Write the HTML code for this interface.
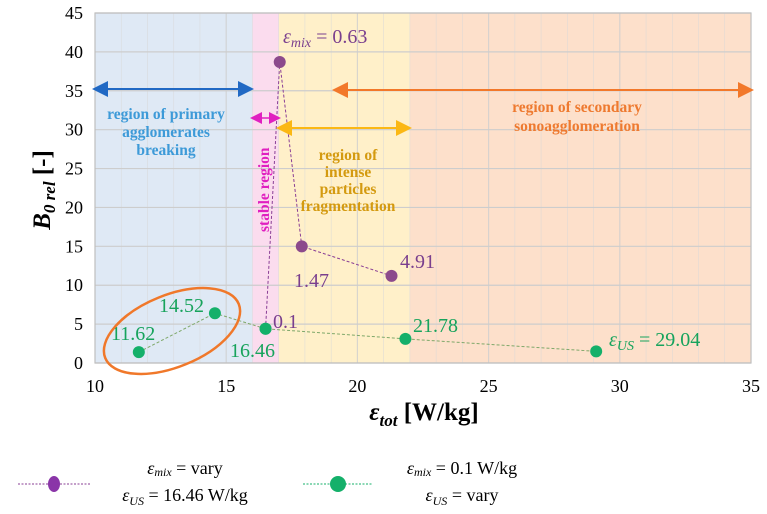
<!DOCTYPE html>
<html><head><meta charset="utf-8">
<style>
html,body{margin:0;padding:0;background:#fff;width:767px;height:514px;overflow:hidden}
svg{display:block;font-family:"Liberation Serif",serif}
</style></head>
<body>
<svg id="chart" width="767" height="514" viewBox="0 0 767 514" xmlns="http://www.w3.org/2000/svg">
<g id="regions"></g>
<g id="grid"></g>
<g id="ann"></g>
<g id="series"></g>
<g id="axes"></g>
</svg>
<script>
const xTicks = [10,15,20,25,30,35];
const yTicks = [0,5,10,15,20,25,30,35,40,45];
const regionBounds = [[10,16],[16,17],[17,22],[22,35]];
const regionNames = ['region-primary-breaking','region-stable','region-intense-fragmentation','region-secondary-sonoagglomeration'];
const mixX = [16.5,17.04,17.88,21.3];
const mixY = [4.4,38.7,15.0,11.2];
const usX = [11.67,14.57,16.5,21.83,29.1];
const usY = [1.4,6.4,4.4,3.1,1.5];

const X0=95,X1=751,Y0=363,Y1=13;
const sx=v=>X0+(v-10)/(35-10)*(X1-X0);
const sy=v=>Y0-(v-0)/(45-0)*(Y0-Y1);
const NS='http://www.w3.org/2000/svg';
function mk(parent,tag,attrs,text){const e=document.createElementNS(NS,tag);for(const k in attrs)e.setAttribute(k,attrs[k]);if(text!==undefined)e.textContent=text;document.getElementById(parent).appendChild(e);return e;}

const fills=['#dfe9f5','#fbdcee','#fff0c9','#fde0cb'];
regionBounds.forEach((b,i)=>{
  const r=mk('regions','rect',{x:sx(b[0]),y:Y1,width:sx(b[1])-sx(b[0]),height:Y0-Y1,fill:fills[i]});
  
  
});
for(let v=11;v<35;v++){
  const l=mk('grid','line',{x1:sx(v),x2:sx(v),y1:Y1,y2:Y0,stroke:v%5==0?'#cfcfcf':'#d8d8d8','stroke-width':v%5==0?1.2:0.6,opacity:0.8});
  
  
}
yTicks.forEach(v=>{
  const l=mk('grid','line',{x1:X0,x2:X1,y1:sy(v),y2:sy(v),stroke:'#cdcdcd','stroke-width':1.2});
  
  
  const t=mk('axes','text',{x:X0-12,y:sy(v)+6,'text-anchor':'end','font-size':18,fill:'#000'},String(v));
  
  
});
xTicks.forEach(v=>{
  const t=mk('axes','text',{x:sx(v),y:Y0+29,'text-anchor':'middle','font-size':18,fill:'#000'},String(v));
  
  
});
const fr=mk('axes','rect',{x:X0,y:Y1,width:X1-X0,height:Y0-Y1,fill:'none',stroke:'#bfbfbf','stroke-width':1.2});



function line(g,xs,ys,col,name){
  const p=mk(g,'polyline',{points:xs.map((x,i)=>sx(x)+','+sy(ys[i])).join(' '),fill:'none',stroke:col,'stroke-width':1,'stroke-dasharray':'3,2'});
  
  
}
line('series',usX,usY,'#7fa86a','series-us-vary-line');
line('series',mixX,mixY,'#8a3f96','series-mix-vary-line');
usX.forEach((x,i)=>{const c=mk('series','circle',{cx:sx(x),cy:sy(usY[i]),r:6,fill:'#14b06a'});});
mixX.forEach((x,i)=>{if(i==0)return;const c=mk('series','circle',{cx:sx(x),cy:sy(mixY[i]),r:6,fill:'#8c4a8c'});});
const c0=mk('series','circle',{cx:sx(usX[2]),cy:sy(usY[2]),r:6,fill:'#14b06a'});
</script>
<svg width="767" height="514" style="position:absolute;left:0;top:0;font-family:'Liberation Serif',serif">
<defs>
<marker id="ab" markerWidth="8" markerHeight="8" refX="4" refY="4" orient="auto-start-reverse"><path d="M0,0 L8,4 L0,8z" fill="#2169c4"/></marker>
<marker id="am" markerWidth="8" markerHeight="8" refX="4" refY="4" orient="auto-start-reverse"><path d="M0,0 L8,4 L0,8z" fill="#e020c0"/></marker>
<marker id="ay" markerWidth="8" markerHeight="8" refX="4" refY="4" orient="auto-start-reverse"><path d="M0,0 L8,4 L0,8z" fill="#fbb814"/></marker>
<marker id="ao" markerWidth="8" markerHeight="8" refX="4" refY="4" orient="auto-start-reverse"><path d="M0,0 L8,4 L0,8z" fill="#f2782a"/></marker>
</defs>
<line x1="100" y1="89" x2="246" y2="89" stroke="#2169c4" stroke-width="2" marker-start="url(#ab)" marker-end="url(#ab)"/>
<line x1="256" y1="118" x2="275" y2="118" stroke="#e020c0" stroke-width="1.5" marker-start="url(#am)" marker-end="url(#am)"/>
<line x1="284" y1="128" x2="404" y2="128" stroke="#fbb814" stroke-width="2" marker-start="url(#ay)" marker-end="url(#ay)"/>
<line x1="340" y1="90" x2="746" y2="90" stroke="#f2782a" stroke-width="2" marker-start="url(#ao)" marker-end="url(#ao)"/>
<g font-weight="bold" font-size="15.5" text-anchor="middle">
<text fill="#3d9ad8" x="166" y="119">region of primary<tspan x="166" dy="18">agglomerates</tspan><tspan x="166" dy="18">breaking</tspan></text>
<text fill="#e020c0" transform="translate(269,232) rotate(-90)" x="0" y="0" text-anchor="start" font-size="15.5">stable region</text>
<text fill="#d49a10" x="348" y="160">region of<tspan x="348" dy="17">intense</tspan><tspan x="348" dy="17">particles</tspan><tspan x="348" dy="17">fragmentation</tspan></text>
<text fill="#ee7a30" x="577" y="112">region of secondary<tspan x="577" dy="19">sonoagglomeration</tspan></text>
</g>
<g font-size="20">
<text fill="#7a3f8e" x="283" y="43"><tspan font-style="italic">ε</tspan><tspan font-style="italic" font-size="14" dy="4">mix</tspan><tspan dy="-4"> = 0.63</tspan></text>
<text fill="#7a3f8e" x="294" y="287">1.47</text>
<text fill="#7a3f8e" x="400" y="268">4.91</text>
<text fill="#7a3f8e" x="273" y="328">0.1</text>
<text fill="#17a35c" x="230" y="357">16.46</text>
<text fill="#17a35c" x="111" y="340">11.62</text>
<text fill="#17a35c" x="159" y="312">14.52</text>
<text fill="#17a35c" x="413" y="332">21.78</text>
<text fill="#17a35c" x="609" y="346"><tspan font-style="italic">ε</tspan><tspan font-style="italic" font-size="14" dy="4">US</tspan><tspan dy="-4"> = 29.04</tspan></text>
</g>
<ellipse cx="172" cy="331" rx="72" ry="36" transform="rotate(-22 172 331)" fill="none" stroke="#f0782a" stroke-width="2.5"/>
<text transform="translate(50,190) rotate(-90)" text-anchor="middle" font-size="25" font-weight="bold"><tspan font-style="italic">B</tspan><tspan font-style="italic" font-size="17" dy="5">0 rel</tspan><tspan dy="-5"> [-]</tspan></text>
<text x="424" y="420" text-anchor="middle" font-size="25" font-weight="bold"><tspan font-style="italic">ε</tspan><tspan font-style="italic" font-size="17" dy="6">tot</tspan><tspan dy="-6"> [W/kg]</tspan></text>
<g font-size="18">
<line x1="18" y1="484" x2="90" y2="484" stroke="#8a3f96" stroke-dasharray="2,1.5"/>
<ellipse cx="54" cy="484" rx="6" ry="8" fill="#8a35a8"/>
<text x="185" y="474" text-anchor="middle"><tspan font-style="italic">ε</tspan><tspan font-style="italic" font-size="12" dy="2">mix</tspan><tspan dy="-2"> = vary</tspan></text>
<text x="185" y="501" text-anchor="middle"><tspan font-style="italic">ε</tspan><tspan font-style="italic" font-size="12" dy="4">US</tspan><tspan dy="-4"> = 16.46 W/kg</tspan></text>
<line x1="303" y1="484" x2="373" y2="484" stroke="#14b06a" stroke-dasharray="2,1.5"/>
<ellipse cx="338" cy="484" rx="8" ry="8" fill="#14b06a"/>
<text x="462" y="474" text-anchor="middle"><tspan font-style="italic">ε</tspan><tspan font-style="italic" font-size="12" dy="2">mix</tspan><tspan dy="-2"> = 0.1 W/kg</tspan></text>
<text x="462" y="501" text-anchor="middle"><tspan font-style="italic">ε</tspan><tspan font-style="italic" font-size="12" dy="4">US</tspan><tspan dy="-4"> = vary</tspan></text>
</g>
</svg>
</body></html>
